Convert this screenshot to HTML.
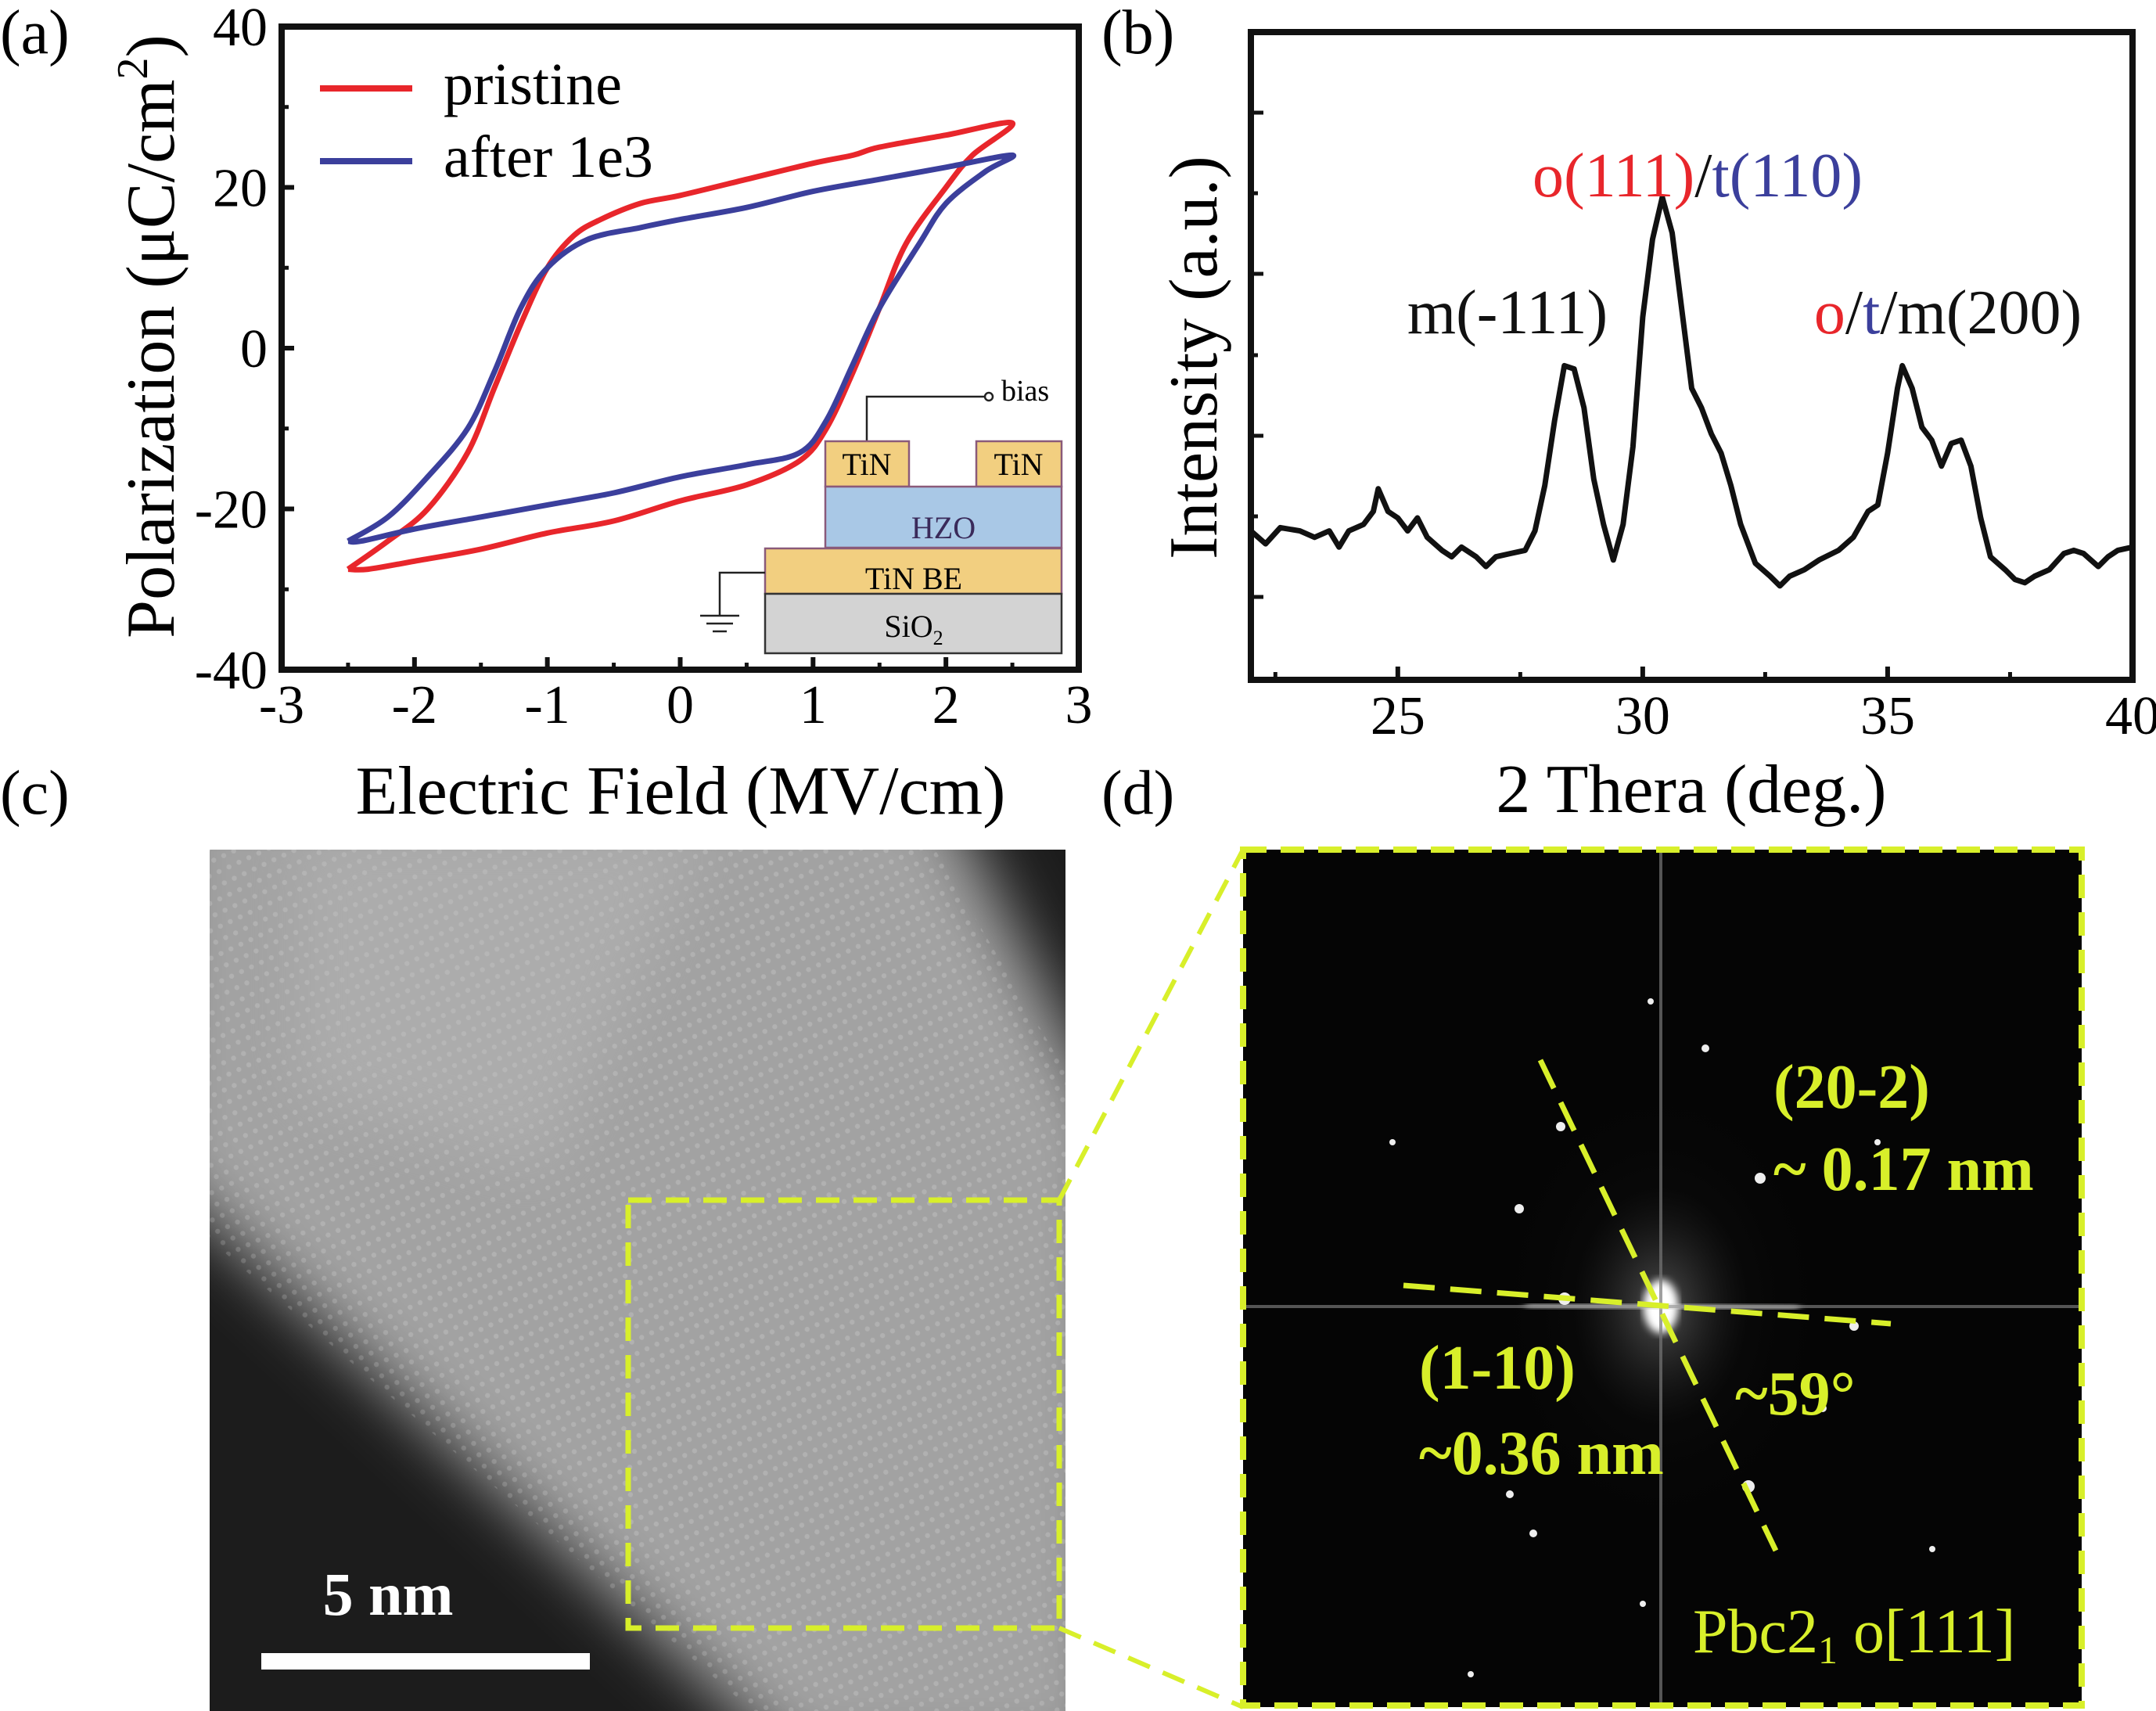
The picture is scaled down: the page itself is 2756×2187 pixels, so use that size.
<!DOCTYPE html>
<html><head><meta charset="utf-8"><style>
html,body{margin:0;padding:0;background:#fff}
svg{display:block}
text{font-family:"Liberation Serif","DejaVu Serif",serif}
</style></head><body>
<svg id="fig" width="2756" height="2187" viewBox="0 0 2756 2187" xmlns="http://www.w3.org/2000/svg">
<defs>
<filter id="blur40" x="-20%" y="-20%" width="140%" height="140%"><feGaussianBlur stdDeviation="40"/></filter>
<filter id="blur6"><feGaussianBlur stdDeviation="5"/></filter>
<pattern id="lattice" width="14" height="16" patternUnits="userSpaceOnUse" patternTransform="rotate(-25)">
<rect width="14" height="16" fill="none"/><circle cx="7" cy="8" r="3.2" fill="#fff" opacity="0.16"/></pattern>
<radialGradient id="glow" cx="50%" cy="50%" r="50%"><stop offset="0" stop-color="#fff" stop-opacity="1"/><stop offset="0.15" stop-color="#ccc" stop-opacity="0.5"/><stop offset="0.5" stop-color="#555" stop-opacity="0.1"/><stop offset="1" stop-color="#000" stop-opacity="0"/></radialGradient>
<clipPath id="clipC"><rect x="268" y="1086" width="1094" height="1101"/></clipPath>
<clipPath id="clipD"><rect x="1589" y="1086" width="1072" height="1096"/></clipPath>
</defs>

<text x="0" y="68" font-size="80">(a)</text>
<text x="1408" y="68" font-size="80">(b)</text>
<text x="0" y="1040" font-size="80">(c)</text>
<text x="1408" y="1040" font-size="80">(d)</text>

<g id="pa">
<g id="pa-ticks"></g>
<g id="pa-curves"></g>
<rect x="360" y="34" width="1019" height="822" fill="none" stroke="#111" stroke-width="8"/>
<line x1="409" y1="113" x2="527" y2="113" stroke="#e8262b" stroke-width="8"/>
<text x="567" y="133" font-size="76">pristine</text>
<line x1="409" y1="206" x2="527" y2="206" stroke="#3b3f9c" stroke-width="8"/>
<text x="567" y="226" font-size="76">after 1e3</text>
<text x="870" y="1040" font-size="88" text-anchor="middle">Electric Field (MV/cm)</text>
<text transform="translate(222,430) rotate(-90)" font-size="88" text-anchor="middle">Polarization (μC/cm<tspan font-size="56" dy="-34">2</tspan><tspan dy="34">)</tspan></text>
<g font-size="40">
<polyline points="1108,564 1108,507 1258,507" fill="none" stroke="#222" stroke-width="2.5"/>
<circle cx="1264" cy="507" r="5" fill="#fff" stroke="#222" stroke-width="2.5"/>
<text x="1280" y="512" font-size="38">bias</text>
<rect x="1055" y="564" width="107" height="58" fill="#f2cf80" stroke="#8a5a7a" stroke-width="2.5"/>
<text x="1108" y="607" text-anchor="middle">TiN</text>
<rect x="1248" y="564" width="109" height="58" fill="#f2cf80" stroke="#8a5a7a" stroke-width="2.5"/>
<text x="1302" y="607" text-anchor="middle">TiN</text>
<rect x="1055" y="622" width="302" height="78" fill="#a9c8e6" stroke="#8a5a7a" stroke-width="2.5"/>
<text x="1206" y="688" text-anchor="middle" fill="#3a2a5a">HZO</text>
<rect x="978" y="701" width="379" height="58" fill="#f2cf80" stroke="#8a5a7a" stroke-width="2.5"/>
<text x="1168" y="753" text-anchor="middle">TiN BE</text>
<rect x="978" y="759" width="379" height="76" fill="#d3d3d3" stroke="#333" stroke-width="2.5"/>
<text x="1168" y="814" text-anchor="middle">SiO<tspan font-size="26" dy="10">2</tspan></text>
<polyline points="978,732 920,732 920,787" fill="none" stroke="#222" stroke-width="2.5"/>
<line x1="895" y1="787" x2="945" y2="787" stroke="#222" stroke-width="2.5"/>
<line x1="903" y1="797" x2="937" y2="797" stroke="#222" stroke-width="2.5"/>
<line x1="911" y1="807" x2="929" y2="807" stroke="#222" stroke-width="2.5"/>
</g>
</g>

<g id="pb">
<g id="pb-ticks"></g>
<path id="pb-line" fill="none" stroke="#111" stroke-width="7" stroke-linejoin="round"/>
<rect x="1599" y="41" width="1127" height="828" fill="none" stroke="#111" stroke-width="8"/>
<text x="2162" y="1038" font-size="88" text-anchor="middle">2 Thera (deg.)</text>
<text transform="translate(1555,457) rotate(-90)" font-size="88" text-anchor="middle">Intensity (a.u.)</text>
<text x="2170" y="251" font-size="80" text-anchor="middle"><tspan fill="#e8262b">o(111)</tspan><tspan fill="#111">/</tspan><tspan fill="#3b3f9c">t(110)</tspan></text>
<text x="1927" y="426" font-size="80" text-anchor="middle" fill="#111">m(-111)</text>
<text x="2490" y="426" font-size="80" text-anchor="middle"><tspan fill="#e8262b">o</tspan><tspan fill="#111">/</tspan><tspan fill="#3b3f9c">t</tspan><tspan fill="#111">/m(200)</tspan></text>
</g>

<g clip-path="url(#clipC)">
<rect x="268" y="1086" width="1094" height="1101" fill="#1c1c1c"/>
<polygon points="200,1000 1200,1000 1420,1430 1420,2260 1020,2260 200,1500" fill="#a2a2a2" filter="url(#blur40)"/>
<polygon points="240,1060 1180,1060 1380,1400 1380,2220 1000,2220 240,1560" fill="url(#lattice)"/>
<polygon points="380,1060 900,1060 700,1500 380,1400" fill="#c0c0c0" opacity="0.35" filter="url(#blur40)"/>
</g>
<rect x="803" y="1534" width="551" height="547" fill="none" stroke="#d8ef2a" stroke-width="7" stroke-dasharray="30,18"/>
<rect x="334" y="2113" width="420" height="21" fill="#fff"/>
<text x="496" y="2064" font-size="78" font-weight="bold" fill="#fff" text-anchor="middle">5 nm</text>
<line x1="1354" y1="1534" x2="1589" y2="1086" stroke="#d8ef2a" stroke-width="6" stroke-dasharray="30,18"/>
<line x1="1354" y1="2081" x2="1589" y2="2182" stroke="#d8ef2a" stroke-width="6" stroke-dasharray="30,18"/>

<g clip-path="url(#clipD)">
<rect x="1589" y="1086" width="1072" height="1096" fill="#050505"/>
<ellipse cx="2123" cy="1670" rx="220" ry="300" fill="url(#glow)" opacity="0.45"/>
<ellipse cx="2123" cy="1670" rx="22" ry="34" fill="#fff" filter="url(#blur6)"/>
<line x1="1589" y1="1670" x2="2661" y2="1670" stroke="#777" stroke-width="4" opacity="0.7"/>
<line x1="2123" y1="1086" x2="2123" y2="2182" stroke="#777" stroke-width="4" opacity="0.7"/>
<line x1="1950" y1="1667" x2="2300" y2="1673" stroke="#ccc" stroke-width="6" filter="url(#blur6)"/>
<line x1="2123" y1="1450" x2="2123" y2="1920" stroke="#ddd" stroke-width="10" filter="url(#blur6)"/>
<g fill="#eee">
<circle cx="1995" cy="1440" r="6"/><circle cx="2250" cy="1506" r="7"/><circle cx="1942" cy="1545" r="6"/><circle cx="2330" cy="1800" r="5"/><circle cx="2235" cy="1900" r="8"/><circle cx="1930" cy="1910" r="5"/><circle cx="2000" cy="1660" r="8"/><circle cx="2370" cy="1695" r="6"/><circle cx="2110" cy="1280" r="4"/><circle cx="2180" cy="1340" r="5"/><circle cx="1780" cy="1460" r="4"/><circle cx="2470" cy="1980" r="4"/><circle cx="1880" cy="2140" r="4"/><circle cx="2100" cy="2050" r="4"/><circle cx="1960" cy="1960" r="5"/><circle cx="2400" cy="1460" r="4"/>
</g>
</g>
<rect x="1589" y="1086" width="1072" height="1094" fill="none" stroke="#d8ef2a" stroke-width="8" stroke-dasharray="30,18"/>
<line x1="1969" y1="1355" x2="2270" y2="1982" stroke="#d8ef2a" stroke-width="7" stroke-dasharray="40,20"/>
<line x1="1794" y1="1643" x2="2417" y2="1692" stroke="#d8ef2a" stroke-width="7" stroke-dasharray="40,20"/>
<g fill="#d8ef2a" font-weight="bold" font-size="80">
<text x="2267" y="1416">(20-2)</text>
<text x="2267" y="1521">~ 0.17 nm</text>
<text x="1814" y="1775">(1-10)</text>
<text x="1814" y="1884">~0.36 nm</text>
<text x="2218" y="1808">~59°</text>
</g>
<text x="2164" y="2112" font-size="80" fill="#d8ef2a">Pbc2<tspan font-size="50" dy="14">1</tspan><tspan dy="-14"> o[111]</tspan></text>
</svg>
<script>
const peTickValuesX = [-3,-2,-1,0,1,2,3];
const peTickValuesY = [-40,-20,0,20,40];
const pristineE = [-2.5,-2.2,-1.9,-1.6,-1.4,-1.2,-1.0,-0.8,-0.6,-0.3,0,0.5,1.0,1.3,1.5,2.0,2.5,2.2,2.0,1.7,1.5,1.3,1.1,0.9,0.5,0,-0.5,-1.0,-1.5,-2.0,-2.35,-2.5];
const pristineP = [-27.5,-24,-20,-13,-5,3,10,14,16,18,19,21,23,24,25,26.5,28,24,20,13,5,-3,-10,-14,-17,-19,-21.5,-23,-25,-26.5,-27.5,-27.5];
const afterE = [-2.5,-2.2,-1.9,-1.6,-1.4,-1.2,-1.0,-0.7,-0.3,0,0.5,1.0,1.5,2.0,2.5,2.3,2.0,1.8,1.5,1.3,1.1,0.9,0.5,0,-0.5,-1.0,-1.5,-2.0,-2.4,-2.5];
const afterP = [-24,-21,-16,-10,-3,5,10,13.5,15,16,17.5,19.5,21,22.5,24,22,18,13,5,-2,-9,-13,-14.5,-16,-18,-19.5,-21,-22.5,-24,-24];

const xrdTickValues = [25,30,35,40];
const xrdTheta = [22.0,22.3,22.6,23.0,23.3,23.6,23.8,24.0,24.3,24.5,24.6,24.8,25.0,25.2,25.4,25.6,25.9,26.1,26.3,26.6,26.8,27.0,27.3,27.6,27.8,28.0,28.2,28.4,28.6,28.8,29.0,29.2,29.4,29.6,29.8,30.0,30.2,30.4,30.6,30.8,31.0,31.2,31.4,31.6,31.8,32.0,32.3,32.6,32.8,33.0,33.3,33.6,34.0,34.3,34.6,34.8,35.0,35.2,35.3,35.5,35.7,35.9,36.1,36.3,36.5,36.7,36.9,37.1,37.4,37.6,37.8,38.0,38.3,38.6,38.8,39.0,39.3,39.5,39.7,40.0];
const xrdIntensity = [23,21,23.5,23,22,23,20.5,23,24,26,29.5,26,25,23,25,22,20,19,20.5,19,17.5,19,19.5,20,23,30,40,48.5,48,42,31,24,18.5,24,36,56,68,74.5,69,57,45,42,38,35,30,24,18,16,14.5,16,17,18.5,20,22,26,27,35,45,48.5,45,39,37,33,36.5,37,33,25,19,17,15.5,15,16,17,19.5,20,19.5,17.5,19,20,20.5];

const NS = "http://www.w3.org/2000/svg";
function mk(tag, attrs, parent){ const e=document.createElementNS(NS,tag); for(const k in attrs) e.setAttribute(k,attrs[k]); parent.appendChild(e); return e; }

const ax = e => 360 + (e + 3) * (1019 / 6);
const ay = p => 445 - p * (822 / 80);
const paT = document.getElementById('pa-ticks');
peTickValuesX.forEach(v=>{
  const t = mk('line',{x1:ax(v),y1:856,x2:ax(v),y2:840,stroke:'#111','stroke-width':6},paT);
  
  
  const l = mk('text',{x:ax(v),y:924,'font-size':70,'text-anchor':'middle'},paT);
  
  
  l.textContent = v;
  if (v < 3) {
    const m = mk('line',{x1:ax(v+0.5),y1:856,x2:ax(v+0.5),y2:847,stroke:'#111','stroke-width':5},paT);
    
    
  }
});
peTickValuesY.forEach(v=>{
  const t = mk('line',{x1:360,y1:ay(v),x2:376,y2:ay(v),stroke:'#111','stroke-width':6},paT);
  
  
  const l = mk('text',{x:342,y:ay(v)+24,'font-size':70,'text-anchor':'end'},paT);
  
  
  l.textContent = v;
  if (v < 40) {
    const m = mk('line',{x1:360,y1:ay(v+10),x2:369,y2:ay(v+10),stroke:'#111','stroke-width':5},paT);
    
    
  }
});
const paC = document.getElementById('pa-curves');
function smoothPath(E,P){
  const pts = E.map((e,i)=>[ax(e),ay(P[i])]);
  let d = 'M'+pts[0][0].toFixed(1)+','+pts[0][1].toFixed(1);
  for (let i=0;i<pts.length-1;i++){
    const p0=pts[Math.max(i-1,0)], p1=pts[i], p2=pts[i+1], p3=pts[Math.min(i+2,pts.length-1)];
    const c1=[p1[0]+(p2[0]-p0[0])/6, p1[1]+(p2[1]-p0[1])/6];
    const c2=[p2[0]-(p3[0]-p1[0])/6, p2[1]-(p3[1]-p1[1])/6];
    d += ' C'+c1[0].toFixed(1)+','+c1[1].toFixed(1)+' '+c2[0].toFixed(1)+','+c2[1].toFixed(1)+' '+p2[0].toFixed(1)+','+p2[1].toFixed(1);
  }
  return d;
}
const pr = mk('path',{d:smoothPath(pristineE,pristineP),fill:'none',stroke:'#e8262b','stroke-width':7,'stroke-linejoin':'round'},paC);


const af = mk('path',{d:smoothPath(afterE,afterP),fill:'none',stroke:'#3b3f9c','stroke-width':7,'stroke-linejoin':'round'},paC);



const bx = t => 1599 + (t - 22) * (1127 / 18);
const by = i => 869 - i * 8.28;
const pbT = document.getElementById('pb-ticks');
xrdTickValues.forEach(v=>{
  const t = mk('line',{x1:bx(v),y1:869,x2:bx(v),y2:852,stroke:'#111','stroke-width':6},pbT);
  
  
  const l = mk('text',{x:bx(v),y:938,'font-size':70,'text-anchor':'middle'},pbT);
  
  
  l.textContent = v;
});
[22.5,27.5,32.5,37.5].forEach(v=>{
  const m = mk('line',{x1:bx(v),y1:869,x2:bx(v),y2:859,stroke:'#111','stroke-width':5},pbT);
  
  
});
[144,247,350,454,557,660,763].forEach((y,i)=>{
  const m = mk('line',{x1:1599,y1:y,x2:(i%2==0?1615:1608),y2:y,stroke:'#111','stroke-width':5},pbT);
  
  
});
document.getElementById('pb-line').setAttribute('d', xrdTheta.map((t,i)=>(i?'L':'M')+bx(t).toFixed(1)+','+by(xrdIntensity[i]).toFixed(1)).join(' '));
</script>
</body></html>
